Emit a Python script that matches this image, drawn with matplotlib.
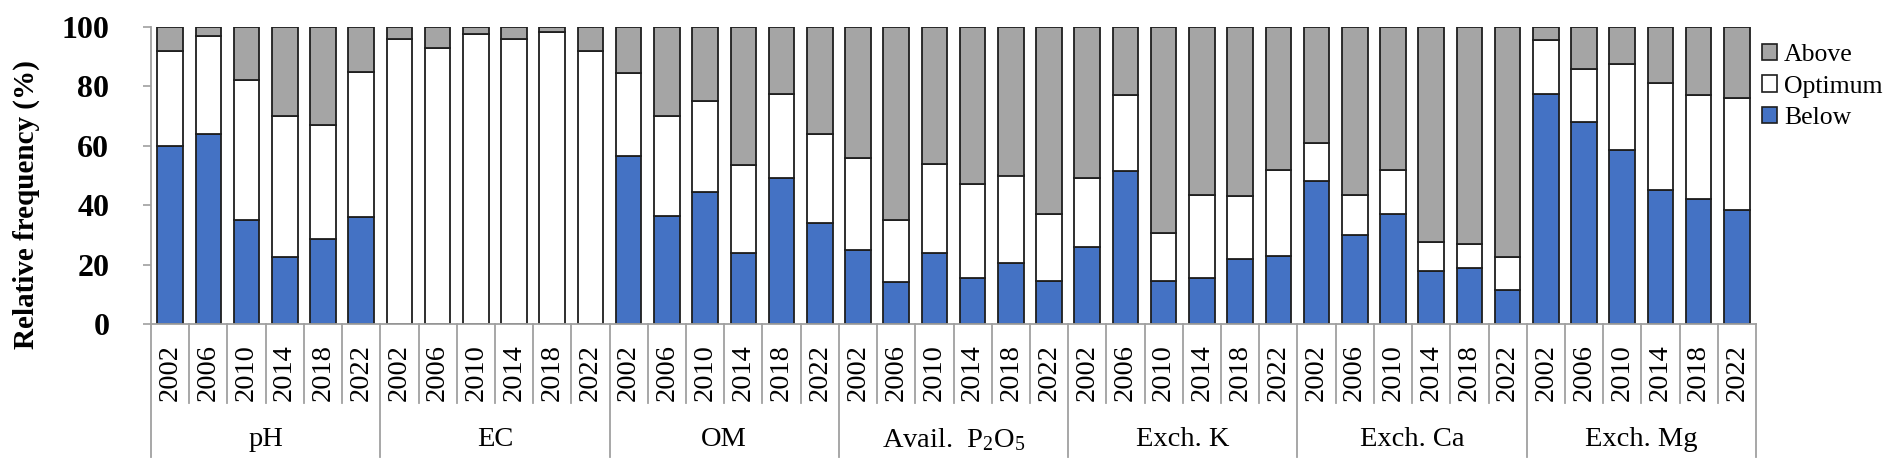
import matplotlib
matplotlib.use("Agg")
import matplotlib.pyplot as plt
from matplotlib.transforms import blended_transform_factory
from matplotlib.patches import Patch

plt.rcParams['font.family'] = ['Liberation Serif', 'DejaVu Serif']
plt.rcParams['mathtext.fontset'] = 'custom'
plt.rcParams['mathtext.rm'] = 'Liberation Serif'
plt.rcParams['mathtext.it'] = 'Liberation Serif:italic'

groups = ["pH", "EC", "OM", r"Avail.  P$_2$O$_5$", "Exch. K", "Exch. Ca", "Exch. Mg"]
years = ["2002", "2006", "2010", "2014", "2018", "2022"]

below = [60, 64, 35, 22.5, 28.5, 36,
         0, 0, 0, 0, 0, 0,
         56.5, 36.5, 44.5, 24, 49, 34,
         25, 14, 24, 15.5, 20.5, 14.5,
         26, 51.5, 14.5, 15.5, 22, 23,
         48, 30, 37, 18, 19, 11.5,
         77.5, 68, 58.5, 45, 42, 38.5]
optimum = [32, 33, 47, 47.5, 38.5, 49,
           96, 93, 97.7, 96, 98.3, 92,
           28, 33.5, 30.5, 29.5, 28.5, 30,
           31, 21, 30, 31.5, 29.5, 22.5,
           23, 25.5, 16, 28, 21, 29,
           13, 13.5, 15, 9.5, 8, 11,
           18, 18, 29, 36, 35, 37.5]
above = [8, 3, 18, 30, 33, 15,
         4, 7, 2.3, 4, 1.7, 8,
         15.5, 30, 25, 46.5, 22.5, 36,
         44, 65, 46, 53, 50, 63,
         51, 23, 69.5, 56.5, 57, 48,
         39, 56.5, 48, 72.5, 73, 77.5,
         4.5, 14, 12.5, 19, 23, 24]

W, H = 1894, 469
fig = plt.figure(figsize=(W / 100, H / 100), dpi=100)
ax = fig.add_axes([151 / W, 1 - 324 / H, 1605 / W, 297 / H])

n = len(below)
x = list(range(n))
bottom2 = [b + o for b, o in zip(below, optimum)]
edge = '#1e1e1e'
lw = 1.3
bw = 0.67
ax.bar(x, below, width=bw, color='#4472C4', edgecolor=edge, linewidth=lw, label='Below')
ax.bar(x, optimum, width=bw, bottom=below, color='white', edgecolor=edge, linewidth=lw, label='Optimum')
ax.bar(x, above, width=bw, bottom=bottom2, color='#A5A5A5', edgecolor=edge, linewidth=lw, label='Above')

ax.set_xlim(-0.5, n - 0.5)
ax.set_ylim(0, 100)
ax.set_xticks([])
ax.set_yticks([0, 20, 40, 60, 80, 100])
ax.tick_params(axis='y', length=6, width=1.2, color='#a0a0a0', pad=24, labelsize=23)
for lab in ax.get_yticklabels():
    lab.set_fontweight('bold')
for s in ['top', 'right']:
    ax.spines[s].set_visible(False)
for s in ['left', 'bottom']:
    ax.spines[s].set_color('#a0a0a0')
    ax.spines[s].set_linewidth(1.3)

trans = blended_transform_factory(ax.transData, ax.transAxes)
yr_bottom = -0.266
grp_bottom = -0.448
ng = len(years)
for i in range(n + 1):
    xb = i - 0.5
    yb = grp_bottom if i % ng == 0 else yr_bottom
    ax.plot([xb, xb], [0, yb], color='#a0a0a0', lw=1.3, transform=trans, clip_on=False)

for i in range(n):
    ax.text(i, -0.163, years[i % ng], rotation=90, ha='center', va='center',
            fontsize=20.5, transform=trans)
for g, name in enumerate(groups):
    ax.text(g * ng + (ng - 1) / 2, -0.39, name, ha='center', va='center',
            fontsize=20.5, transform=trans)

fig.text(26 / W, 1 - 205 / H, 'Relative frequency (%)', rotation=90, ha='center',
         va='center', fontsize=21, fontweight='bold')

handles = [Patch(facecolor='#A5A5A5', edgecolor=edge, linewidth=1.2),
           Patch(facecolor='white', edgecolor=edge, linewidth=1.2),
           Patch(facecolor='#4472C4', edgecolor=edge, linewidth=1.2)]
fig.legend(handles, ['Above', 'Optimum', 'Below'], loc='upper left',
           bbox_to_anchor=(1762 / W, 1 - 44 / H), bbox_transform=fig.transFigure,
           frameon=False, fontsize=18.5, handlelength=0.6, handleheight=0.6,
           handletextpad=0.25, labelspacing=0.36, borderpad=0, borderaxespad=0)

fig.savefig('out.png', dpi=100)
